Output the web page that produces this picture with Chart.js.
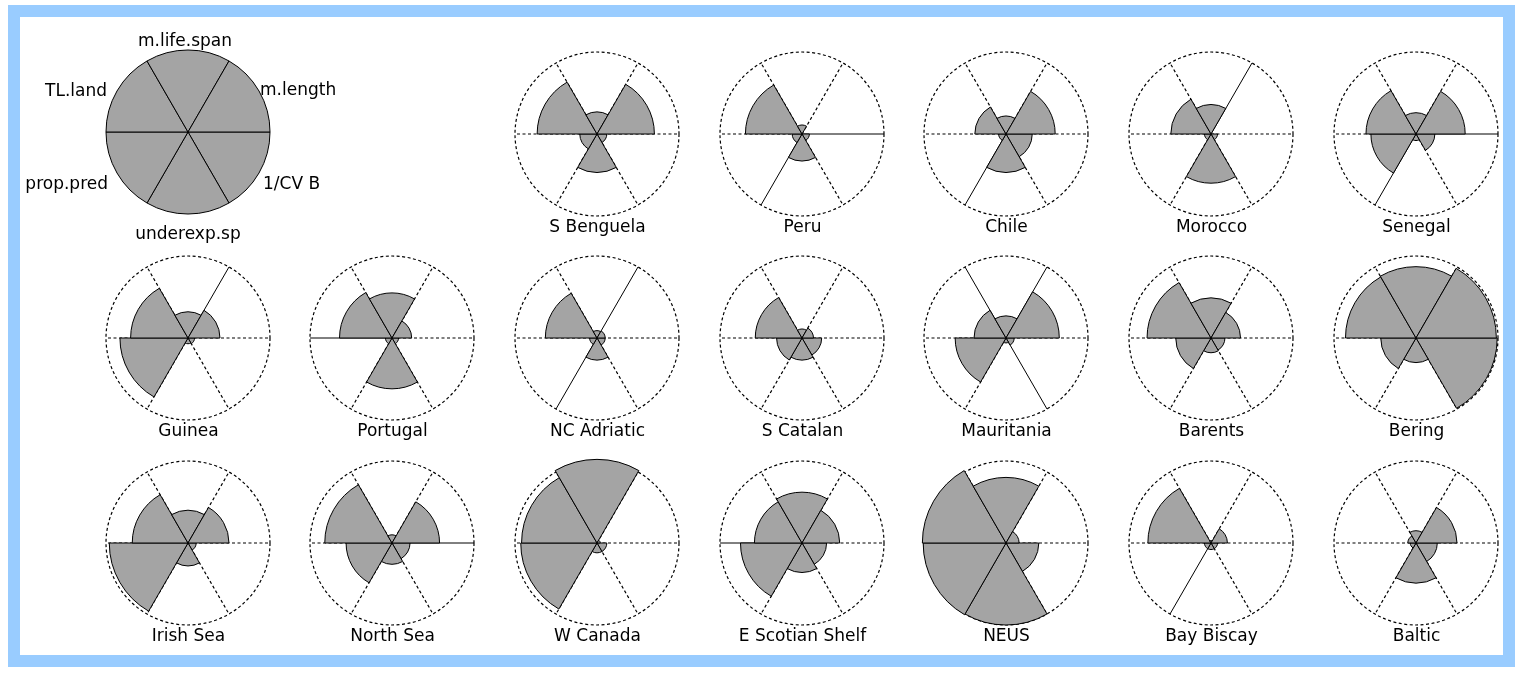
<!DOCTYPE html>
<html>
<head>
<meta charset="utf-8">
<script src="https://cdn.jsdelivr.net/npm/chart.js@4"></script>
<style>
  html, body { margin: 0; padding: 0; background: #fff; }
  body { width: 1519px; height: 675px; position: relative; overflow: hidden; }
  #frame { position: absolute; left: 8px; top: 5px; width: 1507px; height: 662px;
           box-sizing: border-box; border: 12px solid #99ccff; background: #fff; }
  canvas { position: absolute; }
</style>
</head>
<body>
<div id="frame"></div>
<script>
// Indicator order, counter-clockwise from the east (3 o'clock) direction
const indicators = ['m.length', 'm.life.span', 'TL.land', 'prop.pred', 'underexp.sp', '1/CV B'];

// Scaled indicator values per ecosystem (same order as indicators)
const sBenguela     = [0.70, 0.27, 0.73, 0.21, 0.47, 0.12];
const peru          = [0.00, 0.11, 0.69, 0.12, 0.33, 0.09];
const chile         = [0.60, 0.22, 0.38, 0.09, 0.47, 0.32];
const morocco       = [0.00, 0.36, 0.49, 0.08, 0.60, 0.08];
const senegal       = [0.60, 0.26, 0.61, 0.55, 0.08, 0.23];
const guinea        = [0.39, 0.32, 0.70, 0.83, 0.07, 0.08];
const portugal      = [0.24, 0.55, 0.64, 0.08, 0.62, 0.08];
const ncAdriatic    = [0.10, 0.09, 0.63, 0.09, 0.27, 0.10];
const sCatalan      = [0.14, 0.11, 0.57, 0.31, 0.27, 0.24];
const mauritania    = [0.65, 0.27, 0.39, 0.62, 0.06, 0.10];
const barents       = [0.36, 0.49, 0.78, 0.43, 0.18, 0.17];
const bering        = [0.98, 0.87, 0.86, 0.43, 0.30, 0.99];
const irishSea      = [0.50, 0.40, 0.68, 0.96, 0.28, 0.10];
const northSea      = [0.58, 0.10, 0.82, 0.56, 0.26, 0.22];
const wCanada       = [0.04, 1.02, 0.92, 0.93, 0.12, 0.12];
const eScotianShelf = [0.46, 0.62, 0.58, 0.75, 0.36, 0.30];
const neus          = [0.16, 0.80, 1.02, 1.01, 1.00, 0.40];
const bayBiscay     = [0.20, 0.03, 0.77, 0.08, 0.08, 0.08];
const baltic        = [0.50, 0.15, 0.10, 0.07, 0.49, 0.26];

// Key star: every segment at full length
const keyValues = [1, 1, 1, 1, 1, 1];

const ecosystems = [
  ['S Benguela', sBenguela], ['Peru', peru], ['Chile', chile], ['Morocco', morocco], ['Senegal', senegal],
  ['Guinea', guinea], ['Portugal', portugal], ['NC Adriatic', ncAdriatic], ['S Catalan', sCatalan],
  ['Mauritania', mauritania], ['Barents', barents], ['Bering', bering],
  ['Irish Sea', irishSea], ['North Sea', northSea], ['W Canada', wCanada], ['E Scotian Shelf', eScotianShelf],
  ['NEUS', neus], ['Bay Biscay', bayBiscay], ['Baltic', baltic]
];

// ---- layout & style ----
const GRAY = '#a4a4a4';
const DOT = [3, 2.5];
const FONT = 'DejaVu Sans';
const COL_X0 = 187.5, COL_DX = 204.7;
const ROW_Y = [133.5, 338, 543.3];
// grid slots (row, column) for the ecosystems, in the order above
const slots = [
  [0, 2], [0, 3], [0, 4], [0, 5], [0, 6],
  [1, 0], [1, 1], [1, 2], [1, 3], [1, 4], [1, 5], [1, 6],
  [2, 0], [2, 1], [2, 2], [2, 3], [2, 4], [2, 5], [2, 6]
];
// reference spokes (degrees, counter-clockwise from east) rendered as continuous lines
const solidSpokes = {
  'Peru': [0, 240], 'Chile': [240], 'Morocco': [60], 'Senegal': [0, 240], 'Guinea': [60],
  'Portugal': [180], 'NC Adriatic': [60, 240], 'Mauritania': [60, 120, 300],
  'North Sea': [0], 'E Scotian Shelf': [180], 'Bay Biscay': [240]
};
// key label anchors relative to the key centre: [dx, dy, textAlign]
const keyLabelPos = [
  [72, -41, 'left'], [-3, -90, 'center'], [-81, -40, 'right'],
  [-80, 53, 'right'], [0, 103, 'center'], [75, 53, 'left']
];

// Chart.js sweeps clockwise from its start angle, so feed the segments in reverse
const cw = arr => arr.slice().reverse();

function addCanvas(left, top, w, h) {
  const c = document.createElement('canvas');
  c.width = w; c.height = h;
  c.style.left = left + 'px'; c.style.top = top + 'px';
  c.style.width = w + 'px'; c.style.height = h + 'px';
  document.body.appendChild(c);
  return c;
}

function baseScale() {
  return {
    min: 0, max: 1, startAngle: 90,
    ticks: { display: false, stepSize: 1 },
    pointLabels: { display: false }
  };
}

// Star plot for one ecosystem
ecosystems.forEach(([name, values], k) => {
  const [row, col] = slots[k];
  const cx = COL_X0 + COL_DX * col, cy = ROW_Y[row];
  const W = 200, H = 192;            // padding 8 + 165 plot + 2 gap + 17 title
  const canvas = addCanvas(Math.round(cx - 99), Math.round(cy - 90), W, H);
  const solid = solidSpokes[name] || [];
  const scale = baseScale();
  scale.grid = { display: true, circular: true, color: '#000', lineWidth: 1.2 };
  scale.border = { dash: DOT };
  scale.angleLines = {
    display: true, color: '#000',
    lineWidth: ctx => solid.includes((360 - 60 * ctx.index) % 360) ? 1 : 1.2,
    borderDash: ctx => solid.includes((360 - 60 * ctx.index) % 360) ? [] : DOT
  };
  new Chart(canvas, {
    type: 'polarArea',
    data: {
      labels: cw(indicators),
      datasets: [{ data: cw(values), backgroundColor: GRAY, borderColor: '#000', borderWidth: 1, clip: false }]
    },
    options: {
      responsive: false, animation: false, events: [],
      layout: { padding: { top: 8, left: 17, right: 18, bottom: 0 } },
      plugins: {
        legend: { display: false }, tooltip: { enabled: false },
        title: {
          display: true, position: 'bottom', text: name, color: '#000',
          font: { family: FONT, size: 17, weight: 'normal', lineHeight: 1 },
          padding: { top: 2, bottom: 0 }
        }
      },
      scales: { r: scale }
    }
  });
});

// Key star with the indicator names around it
const keyLabelPlugin = {
  id: 'keyLabels',
  afterDraw(chart, args, opts) {
    const r = chart.scales.r, ctx = chart.ctx;
    ctx.save();
    ctx.font = '17px "' + FONT + '"';
    ctx.fillStyle = '#000';
    ctx.textBaseline = 'middle';
    indicators.forEach((lab, j) => {
      const [dx, dy, align] = opts.positions[j];
      ctx.textAlign = align;
      ctx.fillText(lab, r.xCenter + dx, r.yCenter + dy);
    });
    ctx.restore();
  }
};

(function () {
  const canvas = addCanvas(4, 10, 370, 245);
  const scale = baseScale();
  scale.grid = { display: false };
  scale.angleLines = { display: false };
  new Chart(canvas, {
    type: 'polarArea',
    data: {
      labels: cw(indicators),
      datasets: [{ data: cw(keyValues), backgroundColor: GRAY, borderColor: '#000', borderWidth: 1, clip: false }]
    },
    options: {
      responsive: false, animation: false, events: [],
      layout: { padding: { top: 40, left: 102, right: 103, bottom: 40 } },
      plugins: {
        legend: { display: false }, tooltip: { enabled: false },
        keyLabels: { positions: keyLabelPos }
      },
      scales: { r: scale }
    },
    plugins: [keyLabelPlugin]
  });
})();
</script>
</body>
</html>
